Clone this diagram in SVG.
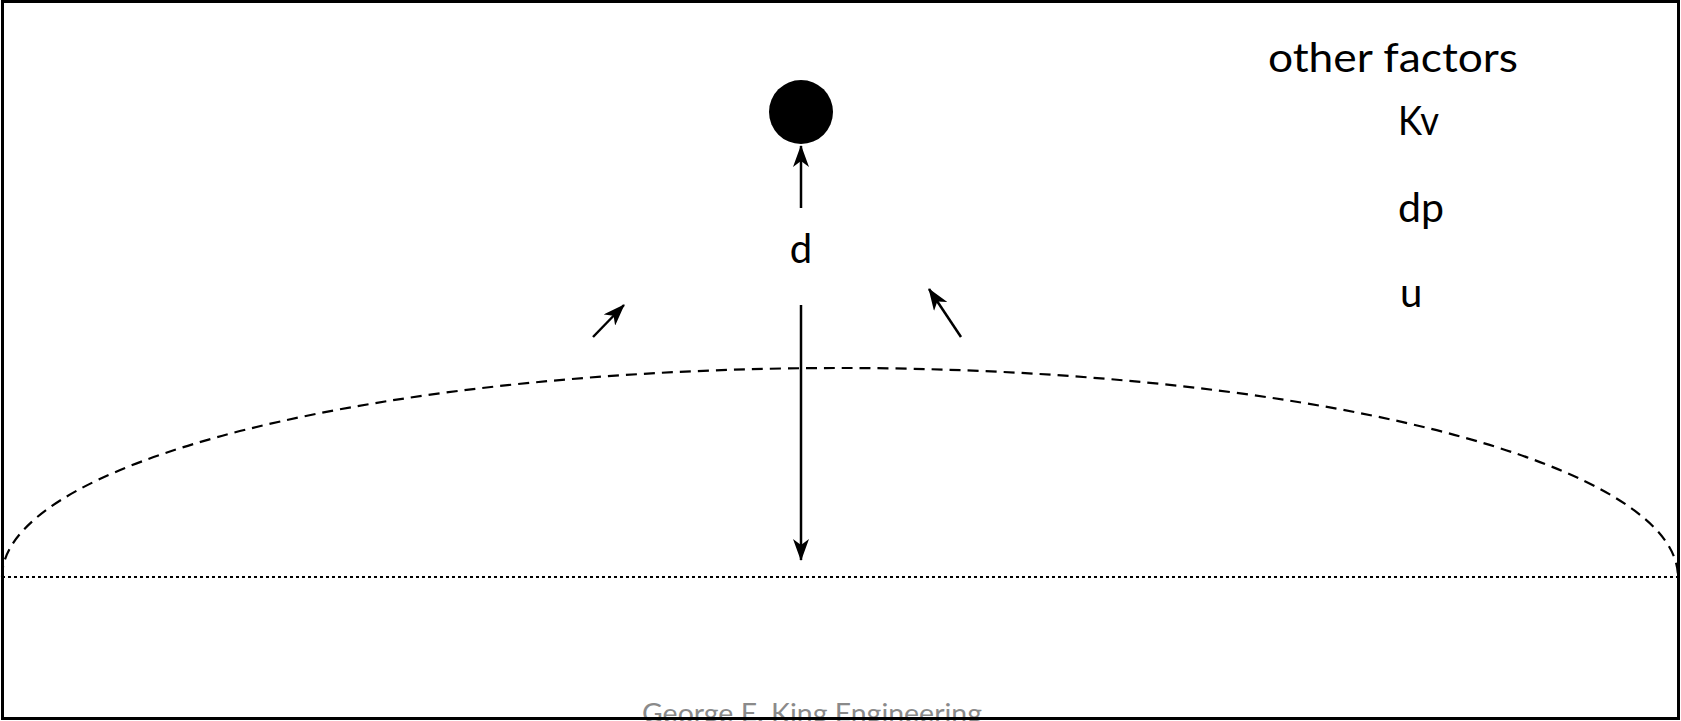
<svg xmlns="http://www.w3.org/2000/svg" width="1681" height="721" viewBox="0 0 1681 721">
<style>
.t{font-family:Lato,"Open Sans","Liberation Sans",sans-serif;font-size:40px;fill:#000}
.ln{stroke:#000;stroke-width:2.5;fill:none}
.foot{font-family:Lato,"Open Sans","Liberation Sans",sans-serif;font-size:26px;fill:#8a8a8a}
</style>
<defs>
<marker id="ah" viewBox="0 0 22 16" refX="21" refY="8" markerWidth="22" markerHeight="16" markerUnits="userSpaceOnUse" orient="auto">
<path d="M0,0 L22,8 L0,16 L6,8 Z" fill="#000"/>
</marker>
</defs>
<rect x="0" y="0" width="1681" height="721" fill="#fff"/>
<text class="foot" x="812" y="723" text-anchor="middle" textLength="340" lengthAdjust="spacingAndGlyphs">George E. King Engineering</text>
<rect x="2.5" y="1.5" width="1676" height="717" fill="none" stroke="#000" stroke-width="3"/>
<g id="ground">
<line x1="2" y1="577" x2="1679" y2="577" stroke="#000" stroke-width="2.2" stroke-dasharray="3,3"/>
<path d="M2,577 A838,209 0 0 1 1678,577" fill="none" stroke="#000" stroke-width="2.2" stroke-dasharray="11,7"/>
</g>
<g id="ball">
<circle cx="801" cy="112" r="32" fill="#000"/>
</g>
<g id="labels">
<text class="t" x="801" y="263" text-anchor="middle">d</text>
<text class="t" x="1268" y="72" textLength="250" lengthAdjust="spacingAndGlyphs">other factors</text>
<text class="t" x="1398" y="135" textLength="41" lengthAdjust="spacingAndGlyphs">Kv</text>
<text class="t" x="1398" y="222" textLength="46" lengthAdjust="spacingAndGlyphs">dp</text>
<text class="t" x="1400" y="307">u</text>
</g>
<g id="connectors">
<line class="ln" x1="801" y1="208" x2="801" y2="146" marker-end="url(#ah)"/>
<line class="ln" x1="801" y1="305" x2="801" y2="560" marker-end="url(#ah)"/>
<line class="ln" x1="593" y1="337" x2="624" y2="305" marker-end="url(#ah)"/>
<line class="ln" x1="961" y1="337" x2="929" y2="289" marker-end="url(#ah)"/>
</g>
</svg>
